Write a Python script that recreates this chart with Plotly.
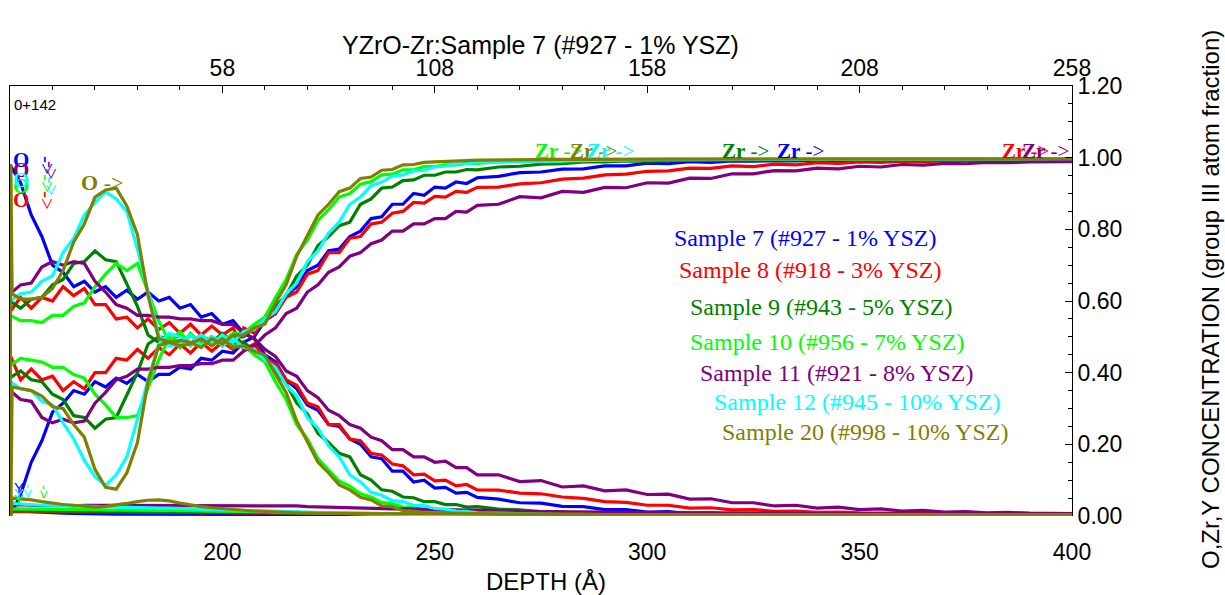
import plotly.graph_objects as go

# ---------------- data ----------------
DEPTH = [150.0, 152.5, 155.0, 157.5, 160.0, 162.5, 165.0, 167.5, 170.0, 172.5,
         175.0, 177.5, 180.0, 182.5, 185.0, 187.5, 190.0, 192.5, 195.0, 197.5,
         200.0, 202.5, 205.0, 207.5, 210.0, 212.5, 215.0, 217.5, 220.0, 222.5,
         225.0, 227.5, 230.0, 232.5, 235.0, 237.5, 240.0, 242.5, 245.0, 247.5,
         250.0, 252.5, 255.0, 257.5, 260.0, 265.0, 270.0, 275.0, 280.0, 285.0,
         290.0, 295.0, 300.0, 305.0, 310.0, 315.0, 320.0, 325.0, 330.0, 335.0,
         340.0, 345.0, 350.0, 355.0, 360.0, 365.0, 370.0, 375.0, 380.0, 385.0,
         390.0, 395.0, 400.0]
TOP_OFFSET = 142  # top axis = depth - 142

S7_O = [0.98, 0.93, 0.84, 0.78, 0.70, 0.68, 0.64, 0.655, 0.625, 0.64,
        0.61, 0.63, 0.605, 0.625, 0.60, 0.61, 0.58, 0.59, 0.555, 0.565,
        0.535, 0.545, 0.51, 0.495, 0.45, 0.43, 0.38, 0.355, 0.31, 0.295,
        0.255, 0.25, 0.215, 0.20, 0.165, 0.16, 0.125, 0.125, 0.095, 0.10,
        0.078, 0.08, 0.064, 0.066, 0.052, 0.047, 0.037, 0.036, 0.027, 0.026,
        0.018, 0.018, 0.011, 0.012, 0.007, 0.009, 0.005, 0.007, 0.004, 0.005,
        0.003, 0.004, 0.003, 0.003, 0.002, 0.003, 0.002, 0.002, 0.002, 0.002,
        0.002, 0.002, 0.002]
S7_ZR = [0.0, 0.06, 0.15, 0.21, 0.29, 0.315, 0.35, 0.34, 0.375, 0.36,
         0.385, 0.37, 0.395, 0.375, 0.395, 0.395, 0.415, 0.41, 0.44, 0.435,
         0.46, 0.455, 0.485, 0.50, 0.545, 0.565, 0.615, 0.64, 0.685, 0.70,
         0.74, 0.745, 0.78, 0.795, 0.83, 0.835, 0.87, 0.87, 0.90, 0.895,
         0.918, 0.915, 0.932, 0.928, 0.944, 0.948, 0.958, 0.96, 0.968, 0.969,
         0.977, 0.977, 0.985, 0.983, 0.989, 0.987, 0.991, 0.99, 0.992, 0.991,
         0.993, 0.992, 0.994, 0.993, 0.995, 0.994, 0.995, 0.995, 0.996, 0.995,
         0.996, 0.996, 0.996]
S7_Y = [0.02, 0.018, 0.012, 0.01, 0.009, 0.008, 0.007, 0.006, 0.006, 0.005,
        0.005, 0.005, 0.005, 0.005, 0.005, 0.005, 0.005, 0.005, 0.005, 0.005,
        0.005, 0.005, 0.005, 0.005, 0.005, 0.005, 0.005, 0.004, 0.004, 0.004,
        0.004, 0.004, 0.004, 0.004, 0.004, 0.004, 0.004, 0.004, 0.004, 0.004,
        0.004, 0.004, 0.004, 0.003, 0.003, 0.003, 0.003, 0.003, 0.003, 0.003,
        0.003, 0.003, 0.003, 0.003, 0.003, 0.003, 0.003, 0.003, 0.003, 0.003,
        0.002, 0.002, 0.002, 0.002, 0.002, 0.002, 0.002, 0.002, 0.002, 0.002,
        0.002, 0.002, 0.002]

S8_O = [0.57, 0.61, 0.58, 0.61, 0.60, 0.64, 0.615, 0.635, 0.59, 0.59,
        0.55, 0.555, 0.525, 0.55, 0.52, 0.54, 0.51, 0.535, 0.505, 0.53,
        0.505, 0.525, 0.465, 0.48, 0.44, 0.425, 0.38, 0.365, 0.315, 0.305,
        0.255, 0.255, 0.215, 0.21, 0.175, 0.17, 0.145, 0.14, 0.115, 0.117,
        0.098, 0.10, 0.084, 0.088, 0.073, 0.072, 0.064, 0.062, 0.053, 0.049,
        0.04, 0.038, 0.03, 0.03, 0.022, 0.023, 0.017, 0.018, 0.013, 0.014,
        0.01, 0.011, 0.009, 0.009, 0.007, 0.008, 0.005, 0.006, 0.004, 0.005,
        0.004, 0.004, 0.003]
S8_ZR = [0.45, 0.38, 0.41, 0.38, 0.39, 0.35, 0.375, 0.355, 0.40, 0.40,
         0.44, 0.435, 0.465, 0.44, 0.47, 0.45, 0.48, 0.455, 0.485, 0.46,
         0.485, 0.465, 0.525, 0.51, 0.55, 0.565, 0.61, 0.625, 0.675, 0.685,
         0.735, 0.735, 0.775, 0.78, 0.815, 0.82, 0.845, 0.85, 0.875, 0.873,
         0.892, 0.89, 0.906, 0.903, 0.917, 0.918, 0.927, 0.93, 0.94, 0.943,
         0.952, 0.954, 0.962, 0.963, 0.971, 0.97, 0.977, 0.975, 0.982, 0.98,
         0.986, 0.984, 0.988, 0.987, 0.99, 0.989, 0.992, 0.991, 0.993, 0.992,
         0.994, 0.994, 0.995]
S8_Y = [0.012, 0.012, 0.011, 0.012, 0.011, 0.012, 0.011, 0.011, 0.01, 0.011,
        0.01, 0.011, 0.01, 0.01, 0.011, 0.01, 0.01, 0.01, 0.009, 0.01,
        0.01, 0.009, 0.01, 0.009, 0.009, 0.009, 0.008, 0.009, 0.008, 0.008,
        0.008, 0.008, 0.007, 0.007, 0.007, 0.007, 0.006, 0.006, 0.006, 0.006,
        0.006, 0.005, 0.005, 0.005, 0.005, 0.005, 0.005, 0.004, 0.004, 0.004,
        0.004, 0.004, 0.004, 0.004, 0.003, 0.003, 0.003, 0.003, 0.003, 0.003,
        0.003, 0.003, 0.003, 0.003, 0.002, 0.002, 0.002, 0.002, 0.002, 0.002,
        0.002, 0.002, 0.002]

S9_O = [0.60, 0.58, 0.605, 0.61, 0.645, 0.66, 0.705, 0.71, 0.74, 0.715,
        0.71, 0.645, 0.585, 0.505, 0.485, 0.49, 0.505, 0.48, 0.505, 0.485,
        0.51, 0.485, 0.485, 0.46, 0.445, 0.40, 0.37, 0.315, 0.285, 0.23,
        0.205, 0.175, 0.165, 0.115, 0.10, 0.073, 0.069, 0.053, 0.051, 0.04,
        0.04, 0.032, 0.032, 0.025, 0.026, 0.019, 0.017, 0.012, 0.011, 0.007,
        0.007, 0.005, 0.005, 0.004, 0.004, 0.004, 0.003, 0.003, 0.003, 0.003,
        0.003, 0.003, 0.002, 0.002, 0.002, 0.002, 0.002, 0.002, 0.002, 0.002,
        0.002, 0.002, 0.002]
S9_ZR = [0.385, 0.405, 0.38, 0.375, 0.34, 0.325, 0.28, 0.275, 0.245, 0.27,
         0.275, 0.34, 0.40, 0.48, 0.50, 0.495, 0.48, 0.505, 0.48, 0.50,
         0.475, 0.50, 0.50, 0.525, 0.54, 0.585, 0.615, 0.67, 0.70, 0.755,
         0.78, 0.81, 0.82, 0.87, 0.885, 0.915, 0.918, 0.936, 0.938, 0.951,
         0.951, 0.96, 0.96, 0.967, 0.966, 0.974, 0.976, 0.982, 0.983, 0.988,
         0.988, 0.991, 0.99, 0.992, 0.992, 0.993, 0.993, 0.994, 0.994, 0.994,
         0.995, 0.995, 0.995, 0.995, 0.996, 0.996, 0.996, 0.996, 0.996, 0.996,
         0.996, 0.996, 0.996]
S9_Y = [0.015, 0.015, 0.014, 0.015, 0.014, 0.014, 0.014, 0.013, 0.014, 0.013,
        0.013, 0.013, 0.013, 0.012, 0.012, 0.012, 0.012, 0.012, 0.011, 0.011,
        0.011, 0.011, 0.01, 0.01, 0.01, 0.009, 0.009, 0.009, 0.008, 0.008,
        0.007, 0.007, 0.006, 0.006, 0.006, 0.005, 0.005, 0.005, 0.004, 0.004,
        0.004, 0.004, 0.004, 0.003, 0.003, 0.003, 0.003, 0.003, 0.003, 0.003,
        0.003, 0.003, 0.003, 0.003, 0.003, 0.002, 0.002, 0.002, 0.002, 0.002,
        0.002, 0.002, 0.002, 0.002, 0.002, 0.002, 0.002, 0.002, 0.002, 0.002,
        0.002, 0.002, 0.002]

S10_O = [0.56, 0.545, 0.545, 0.54, 0.56, 0.56, 0.585, 0.595, 0.64, 0.675,
         0.705, 0.685, 0.705, 0.625, 0.545, 0.485, 0.515, 0.475, 0.505, 0.485,
         0.50, 0.475, 0.475, 0.45, 0.43, 0.375, 0.325, 0.255, 0.215, 0.16,
         0.13, 0.097, 0.083, 0.062, 0.053, 0.038, 0.034, 0.025, 0.024, 0.016,
         0.016, 0.012, 0.012, 0.009, 0.009, 0.007, 0.006, 0.005, 0.005, 0.004,
         0.004, 0.004, 0.003, 0.003, 0.003, 0.003, 0.003, 0.003, 0.002, 0.002,
         0.002, 0.002, 0.002, 0.002, 0.002, 0.002, 0.002, 0.002, 0.002, 0.002,
         0.002, 0.002, 0.002]
S10_ZR = [0.42, 0.44, 0.435, 0.43, 0.415, 0.415, 0.395, 0.385, 0.34, 0.31,
          0.275, 0.275, 0.28, 0.36, 0.435, 0.50, 0.47, 0.51, 0.48, 0.50,
          0.485, 0.51, 0.51, 0.535, 0.555, 0.61, 0.66, 0.73, 0.77, 0.825,
          0.855, 0.89, 0.90, 0.926, 0.933, 0.952, 0.954, 0.966, 0.966, 0.975,
          0.975, 0.98, 0.98, 0.984, 0.984, 0.988, 0.99, 0.991, 0.992, 0.993,
          0.993, 0.994, 0.994, 0.995, 0.995, 0.995, 0.995, 0.996, 0.996, 0.996,
          0.996, 0.996, 0.996, 0.997, 0.997, 0.997, 0.997, 0.997, 0.997, 0.997,
          0.997, 0.997, 0.997]
S10_Y = [0.02, 0.02, 0.019, 0.02, 0.019, 0.019, 0.018, 0.018, 0.018, 0.017,
         0.017, 0.017, 0.016, 0.016, 0.016, 0.015, 0.015, 0.015, 0.014, 0.014,
         0.014, 0.013, 0.013, 0.012, 0.012, 0.011, 0.011, 0.01, 0.01, 0.01,
         0.009, 0.009, 0.008, 0.008, 0.007, 0.007, 0.006, 0.006, 0.005, 0.005,
         0.005, 0.005, 0.004, 0.004, 0.004, 0.004, 0.004, 0.003, 0.003, 0.003,
         0.003, 0.003, 0.003, 0.003, 0.002, 0.002, 0.002, 0.002, 0.002, 0.002,
         0.002, 0.002, 0.002, 0.002, 0.002, 0.002, 0.002, 0.002, 0.002, 0.002,
         0.002, 0.002, 0.002]

S11_O = [0.62, 0.645, 0.65, 0.695, 0.71, 0.70, 0.71, 0.705, 0.655, 0.625,
         0.59, 0.58, 0.56, 0.56, 0.555, 0.555, 0.55, 0.55, 0.545, 0.545,
         0.535, 0.535, 0.51, 0.495, 0.465, 0.445, 0.405, 0.39, 0.35, 0.33,
         0.295, 0.28, 0.255, 0.245, 0.22, 0.21, 0.185, 0.185, 0.165, 0.165,
         0.15, 0.153, 0.135, 0.135, 0.115, 0.115, 0.096, 0.099, 0.081, 0.084,
         0.07, 0.073, 0.06, 0.061, 0.047, 0.048, 0.037, 0.037, 0.028, 0.03,
         0.022, 0.025, 0.018, 0.02, 0.014, 0.016, 0.011, 0.012, 0.009, 0.01,
         0.008, 0.008, 0.007]
S11_ZR = [0.35, 0.325, 0.32, 0.275, 0.26, 0.27, 0.26, 0.265, 0.315, 0.345,
          0.38, 0.39, 0.41, 0.41, 0.415, 0.415, 0.42, 0.42, 0.425, 0.425,
          0.435, 0.435, 0.46, 0.475, 0.505, 0.525, 0.565, 0.58, 0.625, 0.645,
          0.68, 0.695, 0.725, 0.735, 0.76, 0.77, 0.795, 0.795, 0.815, 0.815,
          0.83, 0.83, 0.85, 0.848, 0.867, 0.87, 0.891, 0.888, 0.906, 0.903,
          0.917, 0.916, 0.93, 0.929, 0.943, 0.942, 0.955, 0.955, 0.964, 0.963,
          0.971, 0.969, 0.976, 0.974, 0.981, 0.979, 0.984, 0.983, 0.987, 0.986,
          0.988, 0.989, 0.989]
S11_Y = [0.03, 0.032, 0.03, 0.029, 0.031, 0.03, 0.028, 0.03, 0.031, 0.03,
         0.03, 0.03, 0.03, 0.03, 0.03, 0.03, 0.03, 0.03, 0.03, 0.03,
         0.03, 0.03, 0.03, 0.028, 0.028, 0.028, 0.028, 0.028, 0.026, 0.025,
         0.025, 0.024, 0.022, 0.022, 0.021, 0.021, 0.02, 0.02, 0.02, 0.019,
         0.019, 0.018, 0.017, 0.017, 0.016, 0.015, 0.013, 0.013, 0.012, 0.012,
         0.011, 0.01, 0.01, 0.01, 0.009, 0.009, 0.008, 0.008, 0.008, 0.007,
         0.007, 0.006, 0.006, 0.005, 0.005, 0.005, 0.005, 0.004, 0.004, 0.004,
         0.004, 0.003, 0.003]

S12_O = [0.60, 0.62, 0.625, 0.655, 0.67, 0.735, 0.775, 0.84, 0.875, 0.905,
         0.885, 0.85, 0.745, 0.625, 0.505, 0.475, 0.48, 0.505, 0.475, 0.50,
         0.475, 0.495, 0.47, 0.465, 0.435, 0.415, 0.365, 0.335, 0.275, 0.245,
         0.195, 0.165, 0.115, 0.095, 0.066, 0.058, 0.043, 0.04, 0.03, 0.029,
         0.021, 0.019, 0.014, 0.013, 0.009, 0.008, 0.006, 0.005, 0.004, 0.004,
         0.003, 0.003, 0.003, 0.003, 0.003, 0.002, 0.002, 0.002, 0.002, 0.002,
         0.002, 0.002, 0.002, 0.002, 0.002, 0.002, 0.002, 0.002, 0.002, 0.002,
         0.002, 0.002, 0.002]
S12_ZR = [0.375, 0.355, 0.35, 0.32, 0.31, 0.26, 0.215, 0.155, 0.11, 0.085,
          0.115, 0.165, 0.27, 0.38, 0.48, 0.51, 0.50, 0.475, 0.505, 0.48,
          0.505, 0.485, 0.515, 0.52, 0.55, 0.57, 0.62, 0.65, 0.71, 0.74,
          0.79, 0.82, 0.87, 0.89, 0.922, 0.932, 0.949, 0.952, 0.963, 0.965,
          0.974, 0.976, 0.982, 0.983, 0.987, 0.988, 0.991, 0.992, 0.993, 0.994,
          0.995, 0.995, 0.995, 0.996, 0.996, 0.996, 0.996, 0.996, 0.997, 0.997,
          0.997, 0.997, 0.997, 0.997, 0.997, 0.997, 0.997, 0.997, 0.997, 0.997,
          0.997, 0.997, 0.997]
S12_Y = [0.035, 0.033, 0.032, 0.03, 0.03, 0.029, 0.028, 0.027, 0.026, 0.025,
         0.025, 0.025, 0.024, 0.023, 0.022, 0.022, 0.021, 0.02, 0.02, 0.02,
         0.019, 0.018, 0.016, 0.015, 0.014, 0.012, 0.011, 0.01, 0.009, 0.008,
         0.007, 0.007, 0.006, 0.006, 0.005, 0.005, 0.005, 0.004, 0.004, 0.004,
         0.004, 0.003, 0.003, 0.003, 0.003, 0.003, 0.003, 0.002, 0.002, 0.002,
         0.002, 0.002, 0.002, 0.002, 0.002, 0.002, 0.002, 0.002, 0.002, 0.002,
         0.002, 0.002, 0.002, 0.002, 0.002, 0.002, 0.002, 0.002, 0.002, 0.002,
         0.002, 0.002, 0.002]

# Sample 20 starts with a near-vertical jump at the left edge
S20_DEPTH = [150.0, 150.2, 150.5] + DEPTH[1:]
S20_O = [0.0, 0.98, 0.62,
         0.605, 0.605, 0.61, 0.635, 0.685, 0.765, 0.815, 0.89, 0.91,
         0.915, 0.865, 0.785, 0.615, 0.495, 0.485, 0.475, 0.48, 0.495, 0.475,
         0.495, 0.47, 0.475, 0.46, 0.45, 0.395, 0.345, 0.265, 0.205, 0.15,
         0.12, 0.087, 0.073, 0.052, 0.045, 0.028, 0.026, 0.015, 0.014, 0.009,
         0.009, 0.008, 0.007, 0.006, 0.006, 0.005, 0.005, 0.004, 0.004, 0.004,
         0.003, 0.003, 0.003, 0.003, 0.003, 0.003, 0.003, 0.003, 0.003, 0.003,
         0.002, 0.002, 0.002, 0.002, 0.002, 0.002, 0.002, 0.002, 0.002, 0.002,
         0.002, 0.002, 0.002]
S20_ZR = [0.0, 0.0, 0.36,
          0.355, 0.35, 0.335, 0.305, 0.30, 0.255, 0.22, 0.13, 0.08,
          0.075, 0.12, 0.205, 0.375, 0.475, 0.485, 0.49, 0.485, 0.47, 0.495,
          0.48, 0.505, 0.505, 0.525, 0.535, 0.595, 0.645, 0.725, 0.785, 0.84,
          0.87, 0.905, 0.915, 0.942, 0.946, 0.965, 0.967, 0.98, 0.981, 0.987,
          0.988, 0.99, 0.991, 0.992, 0.993, 0.994, 0.994, 0.995, 0.995, 0.995,
          0.996, 0.996, 0.996, 0.996, 0.996, 0.996, 0.996, 0.996, 0.996, 0.996,
          0.997, 0.997, 0.997, 0.997, 0.997, 0.997, 0.997, 0.997, 0.997, 0.997,
          0.997, 0.997, 0.997]
S20_Y = [0.0, 0.0, 0.05,
         0.048, 0.045, 0.04, 0.035, 0.032, 0.03, 0.027, 0.025, 0.027,
         0.03, 0.035, 0.04, 0.044, 0.045, 0.042, 0.036, 0.03, 0.026, 0.023,
         0.02, 0.018, 0.016, 0.014, 0.012, 0.011, 0.01, 0.009, 0.008, 0.008,
         0.008, 0.007, 0.007, 0.007, 0.006, 0.006, 0.006, 0.005, 0.005, 0.005,
         0.005, 0.005, 0.005, 0.005, 0.005, 0.005, 0.005, 0.005, 0.005, 0.005,
         0.004, 0.004, 0.004, 0.004, 0.004, 0.004, 0.004, 0.004, 0.004, 0.004,
         0.004, 0.004, 0.004, 0.004, 0.004, 0.004, 0.004, 0.004, 0.004, 0.004,
         0.003, 0.003, 0.003]

SAMPLE_NAMES = ["Sample 7 (#927 - 1% YSZ)", "Sample 8 (#918 - 3% YSZ)",
                "Sample 9 (#943 - 5% YSZ)", "Sample 10 (#956 - 7% YSZ)",
                "Sample 11 (#921 - 8% YSZ)", "Sample 12 (#945 - 10% YSZ)",
                "Sample 20 (#998 - 10% YSZ)"]
COLORS = ["#0000FF", "#FF0000", "#008000", "#00FF00", "#800080", "#00FFFF", "#808000"]
X_TICKS = [200, 250, 300, 350, 400]
TOP_TICKS = [58, 108, 158, 208, 258]

SERIES = [
    (DEPTH, S7_O, S7_ZR, S7_Y),
    (DEPTH, S8_O, S8_ZR, S8_Y),
    (DEPTH, S9_O, S9_ZR, S9_Y),
    (DEPTH, S10_O, S10_ZR, S10_Y),
    (DEPTH, S11_O, S11_ZR, S11_Y),
    (DEPTH, S12_O, S12_ZR, S12_Y),
    (S20_DEPTH, S20_O, S20_ZR, S20_Y),
]

# ---------------- figure ----------------
W, H = 1225, 595
PL, PR, PT, PB = 10, 1072, 86, 516
SANS = "Liberation Sans, Arial, sans-serif"
SERIF = "Liberation Serif, Times New Roman, serif"


def fx(px):
    return (px - PL) / (PR - PL)


def fy(py):
    return (PB - py) / (PB - PT)


fig = go.Figure()
for (d, o, zr, y), name, col in zip(SERIES, SAMPLE_NAMES, COLORS):
    for s in (y, o, zr):
        fig.add_trace(go.Scatter(x=d, y=s, mode="lines", name=name,
                                 line=dict(color=col, width=3.2),
                                 showlegend=False, hoverinfo="skip"))

# invisible trace so that the top (offset) depth axis is active
fig.add_trace(go.Scatter(x=[v - TOP_OFFSET for v in DEPTH], y=S7_O, xaxis="x2",
                         mode="lines", line=dict(width=0), opacity=0,
                         showlegend=False, hoverinfo="skip"))

ann = []


def add(text, px, py, color="black", size=20, family=SERIF, xanchor="left",
        yanchor="middle", angle=0):
    ann.append(dict(text=text, x=fx(px), y=fy(py), xref="paper", yref="paper",
                    showarrow=False, xanchor=xanchor, yanchor=yanchor,
                    textangle=angle, font=dict(color=color, size=size, family=family)))


# titles
add("YZrO-Zr:Sample 7 (#927 - 1% YSZ)", 540, 45, size=25, family=SANS, xanchor="center")
add("DEPTH (Å)", 546, 581, size=24, family=SANS, xanchor="center")
add("O,Zr,Y CONCENTRATION (group III atom fraction)", 1210, 300, size=24,
    family=SANS, xanchor="center", angle=-90)
add("0+142", 12, 104, size=15, family=SANS)

# sample labels
LABEL_POS = [(672, 238), (677, 270), (688, 307), (688, 342), (698, 373), (712, 402), (720, 432)]
for name, col, (lx, ly) in zip(SAMPLE_NAMES, COLORS, LABEL_POS):
    add(name, lx, ly, color=col, size=24)

# Zr labels along the top
for ci, lx in [(3, 533), (6, 568), (5, 585), (2, 720), (0, 775), (1, 1000), (4, 1020)]:
    add("<b>Zr</b> ->", lx, 151, color=COLORS[ci], size=21)

# O labels at the left
for ci, ly in [(0, 160), (4, 170), (3, 186), (5, 180), (1, 200)]:
    add("<b>O</b>", 11, ly, color=COLORS[ci], size=21)
for ci, lx, ly in [(0, 47, 165), (4, 51, 170), (3, 47, 183), (5, 51, 186), (1, 47, 200)]:
    add("->", lx, ly, color=COLORS[ci], size=21, xanchor="center", angle=90)
add("<b>O</b> ->", 79, 182, color=COLORS[6], size=22)

# Y labels at the bottom left
for ci, ly in [(0, 487), (5, 493), (3, 499)]:
    add("Y", 12, ly, color=COLORS[ci], size=15, family=SANS)
for ci, lx, ly in [(5, 29, 491), (3, 45, 492)]:
    add("->", lx, ly, color=COLORS[ci], size=15, xanchor="center", angle=90, family=SANS)

tickfont = dict(size=23, family=SANS, color="black")
fig.update_layout(
    width=W, height=H,
    margin=dict(l=PL, r=W - PR, t=PT, b=H - PB, pad=0),
    paper_bgcolor="white", plot_bgcolor="white",
    showlegend=False,
    annotations=ann,
    xaxis=dict(range=[DEPTH[0], DEPTH[-1]], tickmode="array", tickvals=X_TICKS,
               showline=False, showgrid=False, zeroline=False, ticks="",
               tickfont=tickfont, ticklabelstandoff=20),
    xaxis2=dict(overlaying="x", side="top", anchor="y",
                range=[DEPTH[0] - TOP_OFFSET, DEPTH[-1] - TOP_OFFSET],
                tickmode="array", tickvals=TOP_TICKS,
                showline=True, linecolor="black", linewidth=1,
                ticks="inside", ticklen=7, tickcolor="black",
                minor=dict(tickmode="array",
                           tickvals=list(range(int(DEPTH[0] - TOP_OFFSET), int(DEPTH[-1] - TOP_OFFSET) + 1, 10)),
                           ticks="inside", ticklen=4, tickcolor="black"),
                showgrid=False, zeroline=False, tickfont=tickfont),
    yaxis=dict(range=[0, 1.2], side="right", tickmode="linear", tick0=0, dtick=0.2,
               tickformat=".2f", showline=True, mirror=True, linecolor="black",
               linewidth=1, ticks="inside", ticklen=7, tickcolor="black",
               minor=dict(dtick=0.05, ticks="inside", ticklen=4, tickcolor="black"),
               showgrid=False, zeroline=False, tickfont=tickfont),
)

fig.write_html("out.html")
